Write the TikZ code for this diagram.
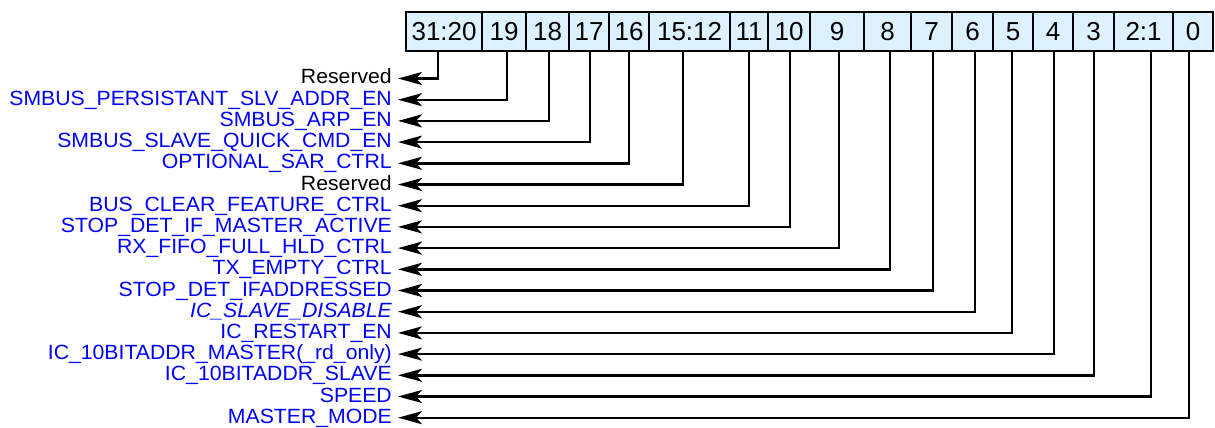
\documentclass[tikz,border=0pt]{standalone}
\usepackage{fontspec}
\setmainfont{Liberation Sans}
\newfontfamily\labfont[FakeStretch=1.03]{Liberation Sans}
\usetikzlibrary{arrows.meta}
\definecolor{cellfill}{RGB}{222,241,255}
\definecolor{labblue}{RGB}{0,0,255}
\tikzset{
  regcell/.style={draw=black,line width=2.2pt,fill=cellfill,inner sep=0pt,
    minimum height=39pt,anchor=north west,font=\fontsize{26}{26}\selectfont},
  fieldlab/.style={anchor=east,inner sep=0pt,text height=11pt,text depth=0pt,
    text=labblue,font=\labfont\fontsize{20.6}{20.6}\selectfont},
  reslab/.style={fieldlab,text=black},
  wire/.style={draw=black,line width=2.4pt,shorten >=6pt,
    arrows={-Stealth[length=24pt,width=13pt,inset=6pt]}}
}
\begin{document}
\begin{tikzpicture}[x=1pt,y=-1pt]
\useasboundingbox (0,0) rectangle (1215,428);
% register cells
\foreach \i/\l/\r/\t in {0/405/481/31:20,1/481/525/19,2/525/568/18,3/568/608/17,
  4/608/648/16,5/648/729/15:12,6/729/767/11,7/767/809/10,8/809/863/9,
  9/863/910/8,10/910/951/7,11/951/992/6,12/992/1032/5,13/1032/1072/4,
  14/1072/1113/3,15/1113/1172/2:1,16/1172/1212/0}{
  \pgfmathsetmacro{\w}{\r-\l}
  \node[regcell,minimum width=\w pt] (c\i) at (\l,11) {\t};
}
% labels
\node[reslab] (l0) at (392,78.5) {Reserved};
\node[fieldlab] (l1) at (392,99.7) {SMBUS\_PERSISTANT\_SLV\_ADDR\_EN};
\node[fieldlab] (l2) at (392,120.9) {SMBUS\_ARP\_EN};
\node[fieldlab] (l3) at (392,142.1) {SMBUS\_SLAVE\_QUICK\_CMD\_EN};
\node[fieldlab] (l4) at (392,163.3) {OPTIONAL\_SAR\_CTRL};
\node[reslab] (l5) at (392,184.5) {Reserved};
\node[fieldlab] (l6) at (392,205.7) {BUS\_CLEAR\_FEATURE\_CTRL};
\node[fieldlab] (l7) at (392,226.9) {STOP\_DET\_IF\_MASTER\_ACTIVE};
\node[fieldlab] (l8) at (392,248.1) {RX\_FIFO\_FULL\_HLD\_CTRL};
\node[fieldlab] (l9) at (392,269.3) {TX\_EMPTY\_CTRL};
\node[fieldlab] (l10) at (392,290.5) {STOP\_DET\_IFADDRESSED};
\node[fieldlab] (l11) at (392,311.7) {\itshape IC\_SLAVE\_DISABLE};
\node[fieldlab] (l12) at (392,332.9) {IC\_RESTART\_EN};
\node[fieldlab] (l13) at (392,354.1) {IC\_10BITADDR\_MASTER(\_rd\_only)};
\node[fieldlab] (l14) at (392,375.3) {IC\_10BITADDR\_SLAVE};
\node[fieldlab] (l15) at (392,396.5) {SPEED};
\node[fieldlab] (l16) at (392,417.7) {MASTER\_MODE};
% connectors
\foreach \i/\dx in {0/-6,1/3,2/1.5,3/1,4/0,5/-6.5,6/0,7/1,8/2,9/2.5,10/1.5,
  11/2.5,12/-1,13/1,14/0.5,15/7.5,16/-4}{
  \draw[wire] ([xshift=\dx pt]c\i.south) |- (l\i.east);
}
\end{tikzpicture}
\end{document}
